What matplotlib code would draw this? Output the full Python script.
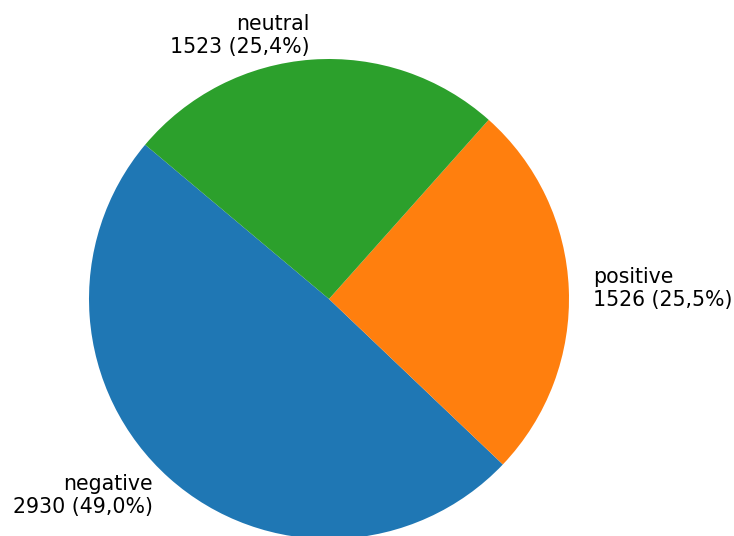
import matplotlib.pyplot as plt

labels = ['negative', 'positive', 'neutral']
counts = [2930, 1526, 1523]
pct_text = ['49,0%', '25,5%', '25,4%']

texts = [f'{l}\n{c} ({p})' for l, c, p in zip(labels, counts, pct_text)]

fig = plt.figure(figsize=(7.34, 5.36), dpi=100)
ax = fig.add_axes([0, 0, 1, 1])
ax.pie(counts, labels=texts, startangle=140, textprops={'fontsize': 14.8})

# place the pie like in the reference (center ~ (329, 299) px, radius ~ 240 px)
r = 240.0
ax.set_xlim(-329 / r, (734 - 329) / r)
ax.set_ylim(-(536 - 299) / r, 299 / r)
ax.set_aspect('auto')

fig.savefig('out.png', dpi=100)
